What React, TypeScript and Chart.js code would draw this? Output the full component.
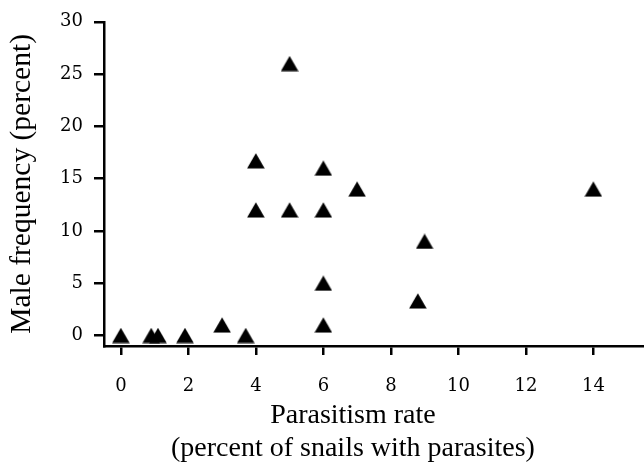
import React, { useEffect, useRef } from 'react';
import { Chart, registerables } from 'chart.js';

Chart.register(...registerables);

// Data
const parasitismRate = [0, 0.9, 1.1, 1.9, 3, 3.7, 4, 4, 5, 5, 6, 6, 6, 6, 7, 8.8, 9, 14];
const maleFrequency = [0, 0, 0, 0, 1, 0, 16.7, 12, 26, 12, 16, 12, 5, 1, 14, 3.3, 9, 14];
const xTickValues = [0, 2, 4, 6, 8, 10, 12, 14];
const yTickValues = [0, 5, 10, 15, 20, 25, 30];
const xTitle = ['Parasitism rate', '(percent of snails with parasites)'];
const yTitle = 'Male frequency (percent)';

const TICK_FONT = 'DejaVu Serif';
const TITLE_FONT = 'Liberation Serif';

function makeTriangle(): HTMLCanvasElement {
  const c = document.createElement('canvas');
  const w = 18;
  const h = 16;
  c.width = w;
  c.height = h;
  const ctx = c.getContext('2d') as CanvasRenderingContext2D;
  ctx.fillStyle = '#000';
  ctx.beginPath();
  ctx.moveTo(w / 2, 0.3);
  ctx.lineTo(w - 0.2, h - 0.4);
  ctx.lineTo(0.2, h - 0.4);
  ctx.closePath();
  ctx.fill();
  return c;
}

// Two-line x-axis title, centred a little left of the plot-area centre as in the reference
const xTitlePlugin = {
  id: 'xTitleLines',
  afterDraw(chart: any) {
    const { ctx, chartArea } = chart;
    const cx = chartArea.left + chartArea.width * 0.461;
    const firstBaseline = chartArea.bottom + 77;
    const lineGap = 33;
    ctx.save();
    ctx.font = `28px "${TITLE_FONT}"`;
    ctx.fillStyle = '#000';
    ctx.textAlign = 'center';
    ctx.textBaseline = 'alphabetic';
    xTitle.forEach((line, i) => ctx.fillText(line, cx, firstBaseline + i * lineGap));
    ctx.restore();
  },
};

export default function App() {
  const ref = useRef<HTMLCanvasElement | null>(null);

  useEffect(() => {
    if (!ref.current) return;
    const tri = makeTriangle();
    const points = parasitismRate.map((x, i) => ({ x, y: maleFrequency[i] }));
    const chart = new Chart(ref.current, {
      type: 'scatter',
      data: {
        datasets: [
          {
            data: points,
            pointStyle: tri as any,
            pointRadius: 9,
            backgroundColor: '#000',
            borderColor: '#000',
            clip: false as any,
          },
        ],
      },
      plugins: [xTitlePlugin],
      options: {
        responsive: false,
        animation: false,
        layout: { autoPadding: false, padding: { top: 20, right: 0, bottom: 0, left: 0 } } as any,
        plugins: {
          legend: { display: false },
          tooltip: { enabled: false },
        },
        scales: {
          x: {
            type: 'linear',
            min: -0.5,
            max: 15.5,
            afterBuildTicks: (s: any) => {
              s.ticks = xTickValues.map((v) => ({ value: v }));
            },
            afterFit: (s: any) => {
              s.height = 118;
            },
            grid: {
              drawOnChartArea: false,
              drawTicks: true,
              tickLength: 9,
              color: '#000',
              lineWidth: 2.5,
            },
            border: { display: true, color: '#000', width: 2.5 },
            ticks: {
              color: '#000',
              font: { family: TICK_FONT, size: 18 },
              padding: 21,
              maxRotation: 0,
              autoSkip: false,
            },
            title: { display: false },
          },
          y: {
            type: 'linear',
            min: -1,
            max: 30,
            afterBuildTicks: (s: any) => {
              s.ticks = yTickValues.map((v) => ({ value: v }));
            },
            afterFit: (s: any) => {
              s.width = 104;
            },
            grid: {
              drawOnChartArea: false,
              drawTicks: true,
              tickLength: 10,
              color: '#000',
              lineWidth: 2.5,
            },
            border: { display: true, color: '#000', width: 2.5 },
            ticks: {
              color: '#000',
              font: { family: TICK_FONT, size: 18 },
              padding: 11,
              autoSkip: false,
            },
            title: {
              display: true,
              text: yTitle,
              color: '#000',
              font: { family: TITLE_FONT, size: 29.5 },
              padding: { top: 5, bottom: 0 },
            },
          },
        },
      },
    });
    return () => chart.destroy();
  }, []);

  return (
    <div style={{ position: 'absolute', left: 0, top: 0, width: 644, height: 464, background: '#fff' }}>
      <canvas ref={ref} width={644} height={464} />
    </div>
  );
}
